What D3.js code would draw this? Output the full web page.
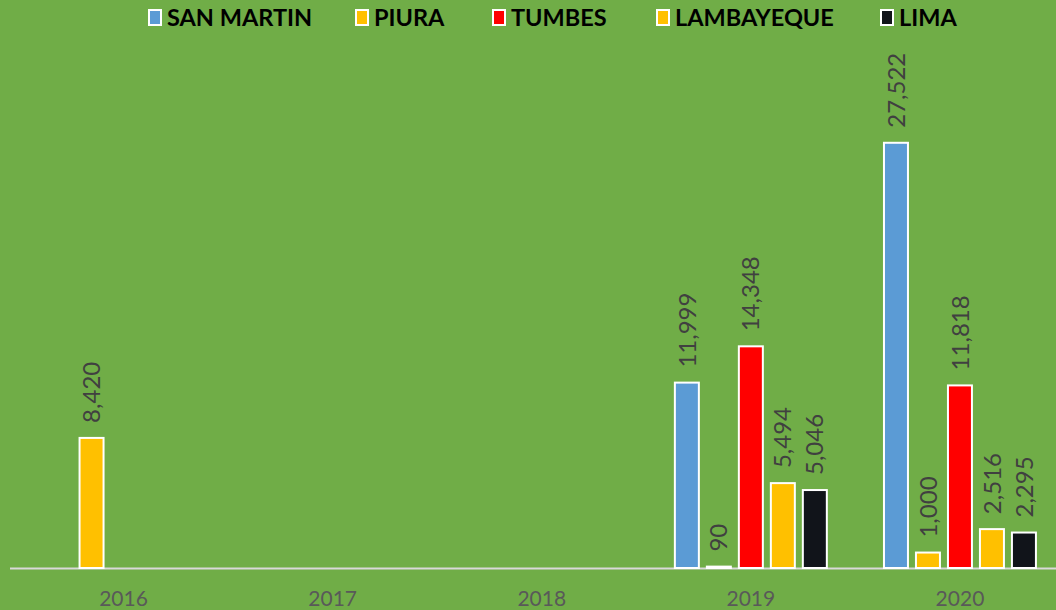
<!DOCTYPE html>
<html>
<head>
<meta charset="utf-8">
<script src="https://cdn.jsdelivr.net/npm/d3@7"></script>
<style>
  html, body { margin: 0; padding: 0; background: #70AD47; }
  svg { display: block; }
</style>
</head>
<body>
<svg id="chart" width="1056" height="610"></svg>
<script>
// Years on the category axis
const years = ["2016", "2017", "2018", "2019", "2020"];
// Regions (series), in legend order
const regions = ["SAN MARTIN", "PIURA", "TUMBES", "LAMBAYEQUE", "LIMA"];
const regionColors = ["#5B9BD5", "#FFC000", "#FF0000", "#FFC000", "#11141A"];

// Values per region, aligned with years (null = no bar)
const sanMartin  = [null, null, null, 11999, 27522];
const piura      = [8420, null, null, 90, 1000];
const tumbes     = [null, null, null, 14348, 11818];
const lambayeque = [null, null, null, 5494, 2516];
const lima       = [null, null, null, 5046, 2295];

const seriesValues = [sanMartin, piura, tumbes, lambayeque, lima];

const W = 1056, H = 610;
const svg = d3.select("#chart");

svg.append("rect").attr("width", W).attr("height", H).attr("fill", "#70AD47");

const baseY = 568;
const x0 = d3.scaleBand().domain(years).range([19, 1064.5]).paddingInner(0.235).paddingOuter(0.1175);
const x1 = d3.scaleBand().domain(regions).range([0, x0.bandwidth()]).paddingInner(0.1875).paddingOuter(0.09375);
const y = d3.scaleLinear().domain([0, 30000]).range([baseY, baseY - 30000 * 0.01545]);

const fmt = d3.format(",");

const rows = [];
regions.forEach((r, i) => {
  years.forEach((yr, j) => {
    const v = seriesValues[i][j];
    if (v != null) rows.push({ region: r, year: yr, value: v, color: regionColors[i] });
  });
});

// Baseline
svg.append("line")
  .attr("x1", 10).attr("x2", W)
  .attr("y1", baseY + 0.5).attr("y2", baseY + 0.5)
  .attr("stroke", "#D9D9D9").attr("stroke-width", 2);

// Bars
svg.append("g").selectAll("rect").data(rows).join("rect")
  .attr("x", d => x0(d.year) + x1(d.region) + 1)
  .attr("width", x1.bandwidth() - 2)
  .attr("y", d => y(d.value))
  .attr("height", d => baseY - y(d.value))
  .attr("fill", d => d.color)
  .attr("stroke", "#FFFFFF")
  .attr("stroke-width", 2);

// Value labels, rotated
svg.append("g").selectAll("text").data(rows).join("text")
  .attr("transform", d => {
    const cx = x0(d.year) + x1(d.region) + x1.bandwidth() / 2;
    return `translate(${cx},${y(d.value) - 15}) rotate(-90)`;
  })
  .attr("dy", "0.36em")
  .attr("text-anchor", "start")
  .attr("font-family", "Lato, 'Open Sans', sans-serif")
  .attr("font-size", 24)
  .attr("fill", "#404040")
  .text(d => fmt(d.value));

// Category axis
const xAxis = d3.axisBottom(x0).tickSize(0).tickPadding(0);
const axisG = svg.append("g").attr("transform", `translate(0,${baseY})`).call(xAxis);
axisG.select(".domain").remove();
axisG.selectAll("text")
  .attr("y", 38)
  .attr("dy", 0)
  .attr("font-family", "Lato, 'Open Sans', sans-serif")
  .attr("font-size", 21)
  .attr("fill", "#595959");

// Legend
const legendX = [148, 355, 492, 656, 880];
const legend = svg.append("g");
regions.forEach((r, i) => {
  const g = legend.append("g").attr("transform", `translate(${legendX[i]},0)`);
  g.append("rect")
    .attr("x", 1).attr("y", 10)
    .attr("width", 12).attr("height", 15)
    .attr("fill", regionColors[i])
    .attr("stroke", "#FFFFFF").attr("stroke-width", 2);
  g.append("text")
    .attr("x", 19).attr("y", 26)
    .attr("font-family", "Lato, 'Open Sans', sans-serif")
    .attr("font-weight", "bold")
    .attr("font-size", 23.5)
    .attr("fill", "#000000")
    .text(r);
});
</script>
</body>
</html>
